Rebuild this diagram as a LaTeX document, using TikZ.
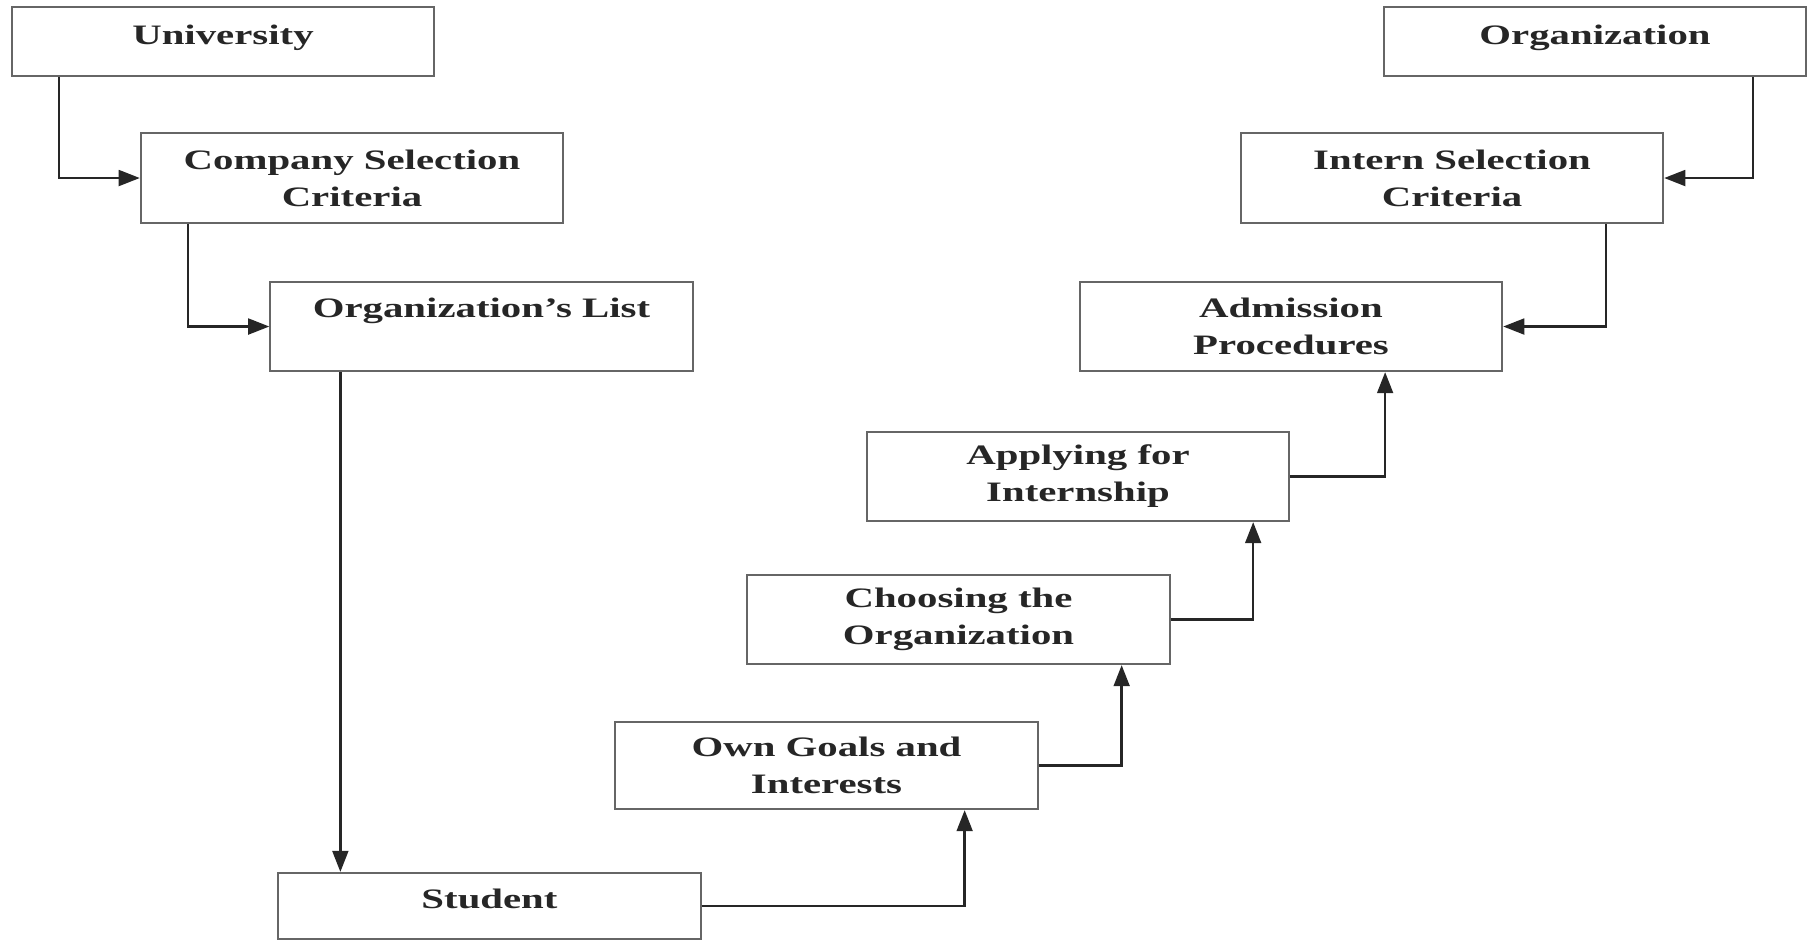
\documentclass[tikz,border=0pt]{standalone}
\usepackage{fontspec}
\setmainfont{Liberation Serif}[FakeStretch=1.45]
\usetikzlibrary{arrows.meta}

\tikzset{
  stepbox/.style={draw=black!60, line width=0.6pt, minimum width=4.22cm, minimum height=0.89cm,
    inner sep=0pt, align=center, text=black!85, font={\fontsize{8}{10.5}\selectfont\bfseries}},
  flatbox/.style={stepbox, minimum height=0.69cm, text height=0.2cm, text depth=0.15cm},
  link/.style={line width=0.7pt, draw=black!85, -{Triangle[length=6pt,width=4.5pt]}}
}

\begin{document}
\begin{tikzpicture}[x=0.01cm, y=-0.01cm]
    \useasboundingbox (0,0) rectangle (1813,941);
    % university side
    \node[flatbox] (univ) at (223,41.5) {University};
    \node[stepbox, minimum height=0.9cm] (company) at (352,178) {Company Selection\\Criteria};
    \node[stepbox] (list) at (481.5,326.5) {Organization's List\\ \mbox{}};
    \node[flatbox, minimum height=0.66cm] (student) at (489.5,906) {Student};
    % student steps
    \node[stepbox, minimum height=0.87cm] (goals) at (826.5,765.5) {Own Goals and\\Interests};
    \node[stepbox] (choose) at (958.5,619.5) {Choosing the\\Organization};
    \node[stepbox] (apply) at (1078,476.5) {Applying for\\Internship};
    \node[stepbox] (admit) at (1291,326.5) {Admission\\Procedures};
    % organization side
    \node[stepbox, minimum height=0.9cm] (intern) at (1452,178) {Intern Selection\\Criteria};
    \node[flatbox] (org) at (1595,41.5) {Organization};

    % connectors
    \draw[link] ([xshift=0.48cm]univ.south west) |- (company.west);
    \draw[link] ([xshift=0.48cm]company.south west) |- (list.west);
    \draw[link] ([xshift=0.71cm]list.south west) -- ([xshift=0.71cm]list.south west |- student.north);
    \draw[link] (student.east) -| ([xshift=-0.74cm]goals.south east);
    \draw[link] (goals.east) -| ([xshift=-0.49cm]choose.south east);
    \draw[link] (choose.east) -| ([xshift=-0.37cm]apply.south east);
    \draw[link] (apply.east) -| ([xshift=-1.18cm]admit.south east);
    \draw[link] ([xshift=-0.54cm]org.south east) |- (intern.east);
    \draw[link] ([xshift=-0.58cm]intern.south east) |- (admit.east);
\end{tikzpicture}
\end{document}
